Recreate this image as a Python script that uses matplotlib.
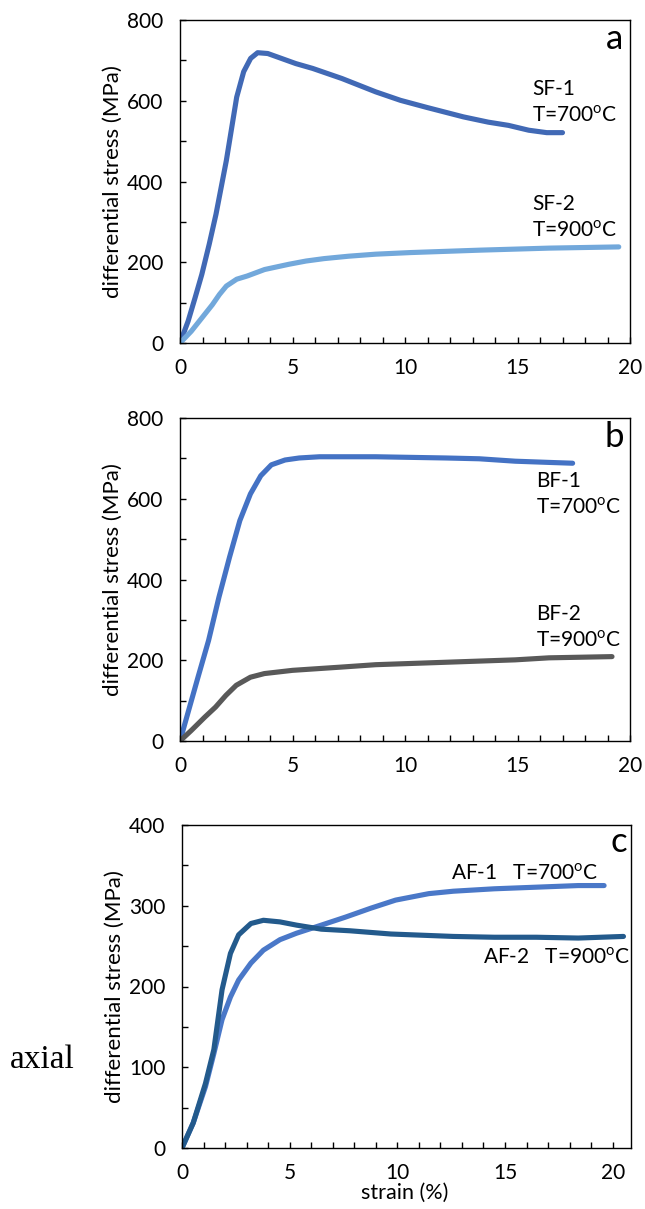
import matplotlib
matplotlib.use("Agg")
import matplotlib.pyplot as plt
from matplotlib.ticker import MultipleLocator
import numpy as np

plt.rcParams['font.family'] = ['Lato', 'DejaVu Sans']
plt.rcParams['mathtext.fontset'] = 'custom'
plt.rcParams['mathtext.rm'] = 'Lato'

# ---- data (strain %, differential stress MPa) ----
sf1_x = [0, 0.36, 0.67, 0.97, 1.3, 1.6, 2.06, 2.52, 2.83, 3.14, 3.45, 3.9, 4.5, 5.15, 5.9, 7.2, 8.7, 9.8, 11.0, 12.6, 13.7, 14.6, 15.5, 16.3, 17.0]
sf1_y = [0, 54, 112, 170, 245, 319, 452, 609, 672, 705, 719, 717, 705, 692, 680, 655, 622, 601, 583, 560, 547, 539, 527, 521, 521]
sf2_x = [0, 0.5, 0.97, 1.44, 1.75, 2.06, 2.52, 2.99, 3.76, 4.84, 5.6, 6.4, 7.5, 8.7, 10.25, 13.35, 16.4, 19.5]
sf2_y = [0, 29, 62, 95, 120, 141, 158, 166, 182, 195, 203, 209, 215, 220, 224, 230, 235, 238]

bf1_x = [0, 0.8, 1.27, 1.73, 2.2, 2.66, 3.13, 3.59, 4.06, 4.67, 5.3, 6.2, 8.7, 11.8, 13.3, 14.9, 16.4, 17.45]
bf1_y = [0, 158, 249, 356, 455, 546, 612, 657, 684, 696, 701, 704, 704, 701, 699, 693, 690, 688]
bf2_x = [0, 0.5, 1.1, 1.58, 2.04, 2.5, 3.13, 3.75, 5.0, 7.15, 8.7, 11.8, 14.9, 16.4, 19.2]
bf2_y = [0, 26, 59, 84, 113, 138, 158, 167, 175, 183, 189, 195, 201, 206, 209]

af1_x = [0, 0.52, 1.09, 1.48, 1.86, 2.25, 2.63, 3.2, 3.78, 4.55, 5.32, 6.47, 7.6, 8.77, 9.92, 11.46, 12.6, 14.5, 16.45, 18.4, 19.6]
af1_y = [0, 31, 76, 117, 159, 187, 208, 229, 245, 258, 266, 276, 286, 297, 307, 315, 318, 321, 323, 325, 325]
af2_x = [0, 0.52, 1.09, 1.48, 1.86, 2.25, 2.63, 3.2, 3.78, 4.55, 5.32, 6.47, 7.8, 9.7, 12.6, 14.5, 16.45, 18.4, 20.5]
af2_y = [0, 31, 80, 122, 196, 241, 264, 278, 282, 280, 276, 271, 269, 265, 262, 261, 261, 260, 262]

panels = [
    dict(letter='a', series=[(sf1_x, sf1_y, '#4169B5'), (sf2_x, sf2_y, '#72A8DB')],
         ylim=800, ymaj=200, ymin=100, xlim=20,
         labels=[(15.65, 630, 'SF-1'), (15.65, 564, 'T=700$^{\\rm o}$C'),
                 (15.65, 344, 'SF-2'), (15.65, 278, 'T=900$^{\\rm o}$C')],
         letter_pos=(19.3, 752)),
    dict(letter='b', series=[(bf1_x, bf1_y, '#4472C4'), (bf2_x, bf2_y, '#595959')],
         ylim=800, ymaj=200, ymin=100, xlim=20,
         labels=[(15.84, 645, 'BF-1'), (15.84, 579, 'T=700$^{\\rm o}$C'),
                 (15.84, 315, 'BF-2'), (15.84, 249, 'T=900$^{\\rm o}$C')],
         letter_pos=(19.3, 752)),
    dict(letter='c', series=[(af1_x, af1_y, '#4A78C8'), (af2_x, af2_y, '#235A8C')],
         ylim=400, ymaj=100, ymin=50, xlim=20.85,
         labels=[(12.5, 340, 'AF-1   T=700$^{\\rm o}$C'), (14.0, 236, 'AF-2   T=900$^{\\rm o}$C')],
         letter_pos=(20.3, 379)),
]

W, H = 645, 1209
fig = plt.figure(figsize=(W / 100, H / 100), dpi=100)
rects = [(180, 20, 630, 343), (180, 418, 630, 741), (182, 825, 631, 1148)]

for p, (l, t, r, b) in zip(panels, rects):
    ax = fig.add_axes([l / W, 1 - b / H, (r - l) / W, (b - t) / H])
    for xs, ys, c in p['series']:
        ax.plot(xs, ys, color=c, lw=3.7, solid_capstyle='round', solid_joinstyle='round')
    ax.set_xlim(0, p['xlim'])
    ax.set_ylim(0, p['ylim'])
    ax.xaxis.set_major_locator(MultipleLocator(5))
    ax.xaxis.set_minor_locator(MultipleLocator(1))
    ax.yaxis.set_major_locator(MultipleLocator(p['ymaj']))
    ax.yaxis.set_minor_locator(MultipleLocator(p['ymin']))
    ax.tick_params(which='both', direction='in', length=4, width=1, labelsize=15)
    ax.tick_params(axis='y', which='both', pad=12)
    ax.tick_params(axis='x', which='both', pad=11)
    for s in ax.spines.values():
        s.set_linewidth(1.0)
    ax.set_ylabel('differential stress (MPa)', fontsize=16)
    ax.yaxis.set_label_coords(-0.127, 0.5)
    for x, y, s in p['labels']:
        ax.text(x, y, s, fontsize=15, ha='left', va='center')
    ax.text(p['letter_pos'][0], p['letter_pos'][1], p['letter'], fontsize=25,
            ha='center', va='center')

fig.text(405 / W, 1 - 1193 / H, 'strain (%)', fontsize=15.5, ha='center', va='center')
fig.text(10 / W, 1 - 1060 / H, 'axial', fontsize=24, ha='left', va='center',
         family='Liberation Serif')

fig.savefig('out.png', dpi=100)
